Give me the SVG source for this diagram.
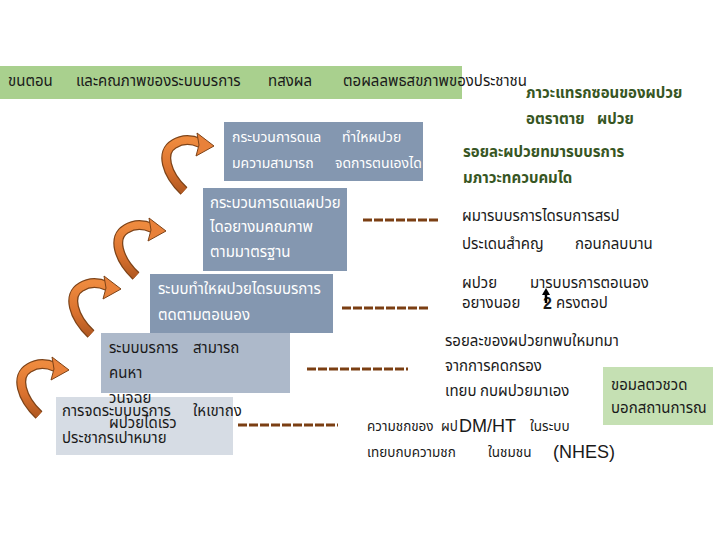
<svg xmlns="http://www.w3.org/2000/svg" xmlns:xlink="http://www.w3.org/1999/xlink" width="720" height="540" viewBox="0 0 720 540">
<defs>
<style>
text{font-family:"Noto Sans Thai","Tahoma","DejaVu Sans","Noto Sans",sans-serif;font-size:15px;fill:#1a1a1a}
.w{fill:#ffffff}
.s14{font-size:14px}
.s13{font-size:13.5px}
.g{fill:#375623;font-weight:bold;font-size:15px}
.big{font-family:"Liberation Sans",Arial,sans-serif;font-size:18px}
.b1{fill:#8497b0}
.b4{fill:#adb9ca}
.b5{fill:#d6dce4}
.dash{stroke:#7b3f13;stroke-width:3;stroke-dasharray:9 2;fill:none}
</style>
<linearGradient id="og" x1="0" y1="0" x2="0" y2="1">
<stop offset="0" stop-color="#ee8a3e"/>
<stop offset="0.6" stop-color="#d9712e"/>
<stop offset="1" stop-color="#b35a22"/>
</linearGradient>
<g id="carrow">
<path d="M184,191 C166,174 160,152 174,144 C182,139 191,139 200,143" fill="none" stroke="#7d4318" stroke-width="10"/>
<path d="M184,191 C166,174 160,152 174,144 C182,139 191,139 200,143" fill="none" stroke="url(#og)" stroke-width="7.5"/>
<polygon points="197,133 214,146 196,156 199,145" fill="#e8813a" stroke="#7d4318" stroke-width="1"/>
</g>
</defs>
<rect width="720" height="540" fill="#ffffff"/>

<g id="header">
<rect x="0" y="66" width="462" height="33" fill="#a9d08e"/>
<text x="8" y="86">ขนตอน</text>
<text x="76" y="86">และคณภาพของระบบบรการ</text>
<text x="268" y="86">ทสงผล</text>
<text x="343" y="86">ตอผลลพธสขภาพของประชาชน</text>
</g>

<g id="outcome">
<text class="g" x="526" y="98">ภาวะแทรกซอนของผปวย</text>
<text class="g" x="526" y="124">อตราตาย</text>
<text class="g" x="597" y="124">ผปวย</text>
</g>

<g id="box1">
<rect class="b1" x="224" y="122" width="199" height="59"/>
<text class="w s14" x="232" y="142">กระบวนการดแล</text>
<text class="w s14" x="342" y="142">ทำใหผปวย</text>
<text class="w s14" x="232" y="168">มความสามารถ</text>
<text class="w s14" x="335" y="168">จดการตนเองได</text>
</g>

<g id="ind1">
<text class="g" x="463" y="157">รอยละผปวยทมารบบรการ</text>
<text class="g" x="463" y="183">มภาวะทควบคมได</text>
</g>

<g id="box2">
<rect class="b1" x="203" y="188" width="144" height="83"/>
<text class="w" x="210" y="208">กระบวนการดแลผปวย</text>
<text class="w" x="210" y="232">ไดอยางมคณภาพ</text>
<text class="w" x="210" y="257">ตามมาตรฐาน</text>
</g>

<g id="ind2">
<text x="462" y="221">ผมารบบรการไดรบการสรป</text>
<text x="462" y="249">ประเดนสำคญ</text>
<text x="575" y="249">กอนกลบบาน</text>
</g>

<g id="box3">
<rect class="b1" x="150" y="274" width="183" height="59"/>
<text class="w" x="158" y="294">ระบบทำใหผปวยไดรบบรการ</text>
<text class="w" x="158" y="320">ตดตามตอเนอง</text>
</g>

<g id="ind3">
<text x="462" y="288">ผปวย</text>
<text x="530" y="288">มารบบรการตอเนอง</text>
<text x="462" y="308">อยางนอย</text>
<text x="543" y="309" style="font-family:'Liberation Sans',Arial,sans-serif;font-size:16px;font-weight:bold">2</text>
<text x="556" y="308">ครงตอป</text>
<path d="M546,303 L546,294" stroke="#000" stroke-width="2.5"/>
<polygon points="542,295 546,288 550,295" fill="#000"/>
</g>

<g id="box4">
<rect class="b4" x="101" y="333" width="189" height="60"/>
<text x="109" y="353">ระบบบรการ</text>
<text x="193" y="353">สามารถ</text>
<text x="109" y="378">คนหา</text>
</g>

<g id="ind4">
<text x="445" y="346">รอยละของผปวยทพบใหมทมา</text>
<text x="445" y="371">จากการคดกรอง</text>
<text x="445" y="396">เทยบ</text>
<text x="480" y="396">กบผปวยมาเอง</text>
</g>

<g id="box5">
<rect class="b5" x="56" y="397" width="177" height="58"/>
<text x="109" y="403">วนจฉย</text>
<text x="62" y="416">การจดระบบบรการ</text>
<text x="193" y="416">ใหเขาถง</text>
<text x="109" y="428">ผปวยไดเรว</text>
<text x="62" y="443">ประชากรเปาหมาย</text>
</g>

<g id="ind5">
<text class="s13" x="367" y="431">ความชกของ</text>
<text class="s13" x="441" y="431">ผป</text>
<text class="big" x="459" y="432">DM/HT</text>
<text class="s13" x="530" y="431">ในระบบ</text>
<text class="s13" x="367" y="457">เทยบกบความชก</text>
<text class="s13" x="488" y="457">ในชมชน</text>
<text class="big" x="553" y="458">(NHES)</text>
</g>

<g id="note">
<rect x="603" y="367" width="110" height="58" fill="#c5e0b3"/>
<text x="611" y="390">ขอมลตวชวด</text>
<text x="611" y="413">บอกสถานการณ</text>
</g>

<g id="connectors">
<line class="dash" x1="363" y1="220" x2="438" y2="220"/>
<line class="dash" x1="342" y1="308" x2="430" y2="308"/>
<line class="dash" x1="307" y1="369" x2="408" y2="369"/>
<line class="dash" x1="238" y1="425" x2="338" y2="425"/>
<use xlink:href="#carrow"/>
<use xlink:href="#carrow" transform="translate(-48,85)"/>
<use xlink:href="#carrow" transform="translate(-93,143)"/>
<use xlink:href="#carrow" transform="translate(-145,224)"/>
</g>
</svg>
